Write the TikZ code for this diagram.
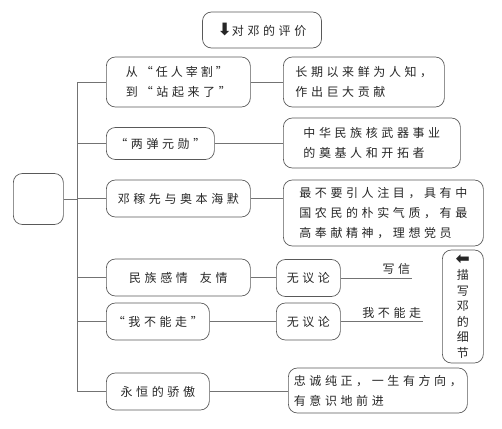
\documentclass[tikz,border=0pt]{standalone}
\usepackage{fontspec}
\usetikzlibrary{positioning, calc}
\newfontfamily\cjk[LetterSpace=30]{Noto Sans CJK SC}
\newfontfamily\sym{DejaVu Sans}
\colorlet{boxline}{black!65}
\colorlet{linkline}{black!55}
\newcommand\bigarrow[1]{{\sym\bfseries\fontsize{17}{17}\selectfont #1}}

\begin{document}
\begin{tikzpicture}[
    x=1pt, y=-1pt,
    box/.style={
        draw=boxline, rounded corners=9pt, line width=0.7pt,
        anchor=west, align=left, inner sep=0pt,
        font=\cjk\fontsize{12}{20}\selectfont, text=black!85
    },
    link/.style={draw=linkline, line width=0.7pt},
    tag/.style={font=\cjk\fontsize{12}{20}\selectfont, text=black!85, inner sep=3pt},
]
\useasboundingbox (0,0) rectangle (502,428);

\node[box, anchor=center, minimum width=119pt, minimum height=36pt] (top) at (262,30) {\bigarrow{⬇}对邓的评价};
\node[box, minimum width=50pt, minimum height=51pt] (root) at (13,199) {};

% left column
\node[box, minimum width=144pt, minimum height=50pt] (b1) at (106,82) {从\hspace{3pt}“\hspace{3pt}任\hspace{3pt}人\hspace{3pt}宰\hspace{3pt}割\hspace{3pt}”\\到\hspace{3pt}“站起来了”};
\node[box, minimum width=108pt, minimum height=32pt] (b2) at (106,143.5) {“两弹元勋”};
\node[box, minimum width=144pt, minimum height=37pt] (b3) at (106,198.5) {邓稼先与奥本海默};
\node[box, minimum width=144pt, minimum height=37pt] (b4) at (106,277.5) {民族感情\hspace{12pt}友情};
\node[box, minimum width=103pt, minimum height=37pt] (b5) at (106,321.5) {“我不能走”};
\node[box, minimum width=103pt, minimum height=37pt] (b6) at (106,391.5) {永恒的骄傲};

% right column
\node[box, minimum width=161pt, minimum height=50pt] (r1) at (283,82) {长期以来鲜为人知，\\作出巨大贡献};
\node[box, minimum width=177pt, minimum height=50pt] (r2) at (283,143) {中华民族核武器事业\\的奠基人和开拓者};
\node[box, minimum width=200pt, minimum height=66pt] (r3) at (283,213) {最不要引人注目，具有中\\国农民的朴实气质，有最\\高奉献精神，理想党员};
\node[box, minimum width=64pt, minimum height=37pt] (n4) at (276,278) {无议论};
\node[box, minimum width=64pt, minimum height=37pt] (n5) at (276,321.5) {无议论};
\node[box, minimum width=179pt, minimum height=45pt] (r6) at (288,390.5) {忠诚纯正，一生有方向，\\有意识地前进};
\node[box, align=center, minimum width=41pt, minimum height=113pt,
      font=\cjk\fontsize{12}{15.5}\selectfont] (side) at (442,306.5) {\bigarrow{⬅}\\描\\写\\邓\\的\\细\\节};

% spine
\coordinate (spine) at (77,0);
\draw[link] (b1.west -| spine) -- (b6.west -| spine);
\draw[link] (root.east) -- (root.east -| spine);
\foreach \b in {b1,b2,b3,b4,b5,b6}
    \draw[link] (\b.west) -- (\b.west -| spine);

\draw[link] (b1.east) -- (b1.east -| r1.west);
\draw[link] (b2.east) -- (b2.east -| r2.west);
\draw[link] (b3.east) -- (b3.east -| r3.west);
\draw[link] (b4.east) -- (b4.east -| n4.west);
\draw[link] (b5.east) -- (b5.east -| n5.west);
\draw[link] (b6.east) -- (b6.east -| r6.west);

\coordinate (e4) at (412,278);
\coordinate (e5) at (423,321.5);
\draw[link] (n4.east) -- (e4) node[tag, pos=0.78, above] {写信};
\draw[link] (n5.east) -- (e5) node[tag, pos=0.62, above] {我不能走};
\end{tikzpicture}
\end{document}
